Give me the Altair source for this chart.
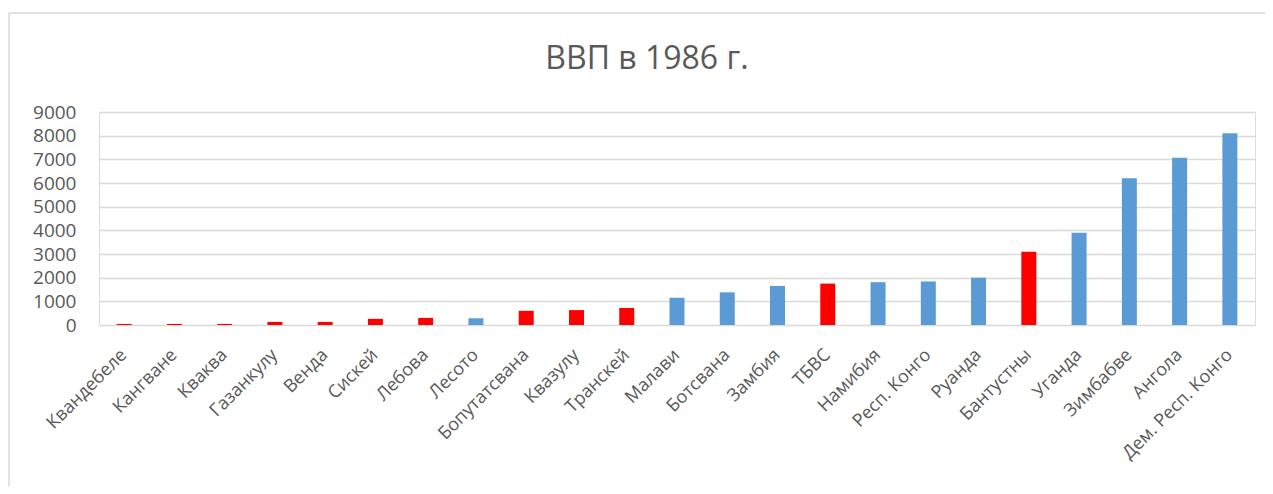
import altair as alt
import pandas as pd

categories = ["Квандебеле", "Кангване", "Кваква", "Газанкулу", "Венда", "Сискей",
              "Лебова", "Лесото", "Бопутатсвана", "Квазулу", "Транскей", "Малави",
              "Ботсвана", "Замбия", "ТБВС", "Намибия", "Респ. Конго", "Руанда",
              "Бантустны", "Уганда", "Зимбабве", "Ангола", "Дем. Респ. Конго"]
values = [45, 45, 45, 130, 130, 260, 300, 285, 600, 630, 720, 1150,
          1380, 1650, 1750, 1810, 1840, 2000, 3100, 3900, 6200, 7070, 8100]
groups = ["b", "b", "b", "b", "b", "b", "b", "s", "b", "b", "b", "s",
          "s", "s", "b", "s", "s", "s", "b", "s", "s", "s", "s"]
title_text = ["ВВП в 1986 г."]

df = pd.DataFrame({"cat": categories, "val": values, "grp": groups})

FONT = "Open Sans"
GRAY = "#595959"

bars = alt.Chart(df).mark_bar(size=15).encode(
    x=alt.X("cat:N", sort=None, title=None,
            scale=alt.Scale(paddingInner=0.7, paddingOuter=0.35),
            axis=alt.Axis(labelAngle=315, labelAlign="right", labelBaseline="middle",
                          labelPadding=27, ticks=False, domain=False,
                          labelFont=FONT, labelFontSize=18, labelColor=GRAY)),
    y=alt.Y("val:Q", title=None,
            scale=alt.Scale(domain=[0, 9000], nice=False),
            axis=alt.Axis(values=list(range(0, 9001, 1000)), format="d",
                          ticks=False, domain=False,
                          labelPadding=23, labelFont=FONT, labelFontSize=19,
                          labelColor=GRAY, gridColor="#D9D9D9", gridWidth=1.5)),
    color=alt.Color("grp:N", legend=None,
                    scale=alt.Scale(domain=["b", "s"], range=["#FF0000", "#5B9BD5"])),
)

frame_df = pd.DataFrame({"a": [0]})
top_line = alt.Chart(frame_df).mark_rule(color="#D9D9D9", strokeWidth=1.5).encode(
    x=alt.value(-90), x2=alt.value(1170), y=alt.value(-99))
left_line = alt.Chart(frame_df).mark_rule(color="#D9D9D9", strokeWidth=1.5).encode(
    x=alt.value(-90), y=alt.value(-99), y2=alt.value(380))

title = alt.Chart(pd.DataFrame({"t": title_text})).mark_text(
    font=FONT, fontSize=32, color=GRAY, align="center", baseline="alphabetic"
).encode(text="t:N", x=alt.value(548), y=alt.value(-43))

chart = alt.layer(bars, top_line, left_line, title).properties(
    width=1156, height=213,
    autosize=alt.AutoSizeParams(type="none"),
    padding={"left": 91, "top": 104, "right": 10, "bottom": 161},
).configure_view(stroke=None).configure(background="white")

chart.save("out.html", embed_options={"renderer": "svg", "actions": False})
